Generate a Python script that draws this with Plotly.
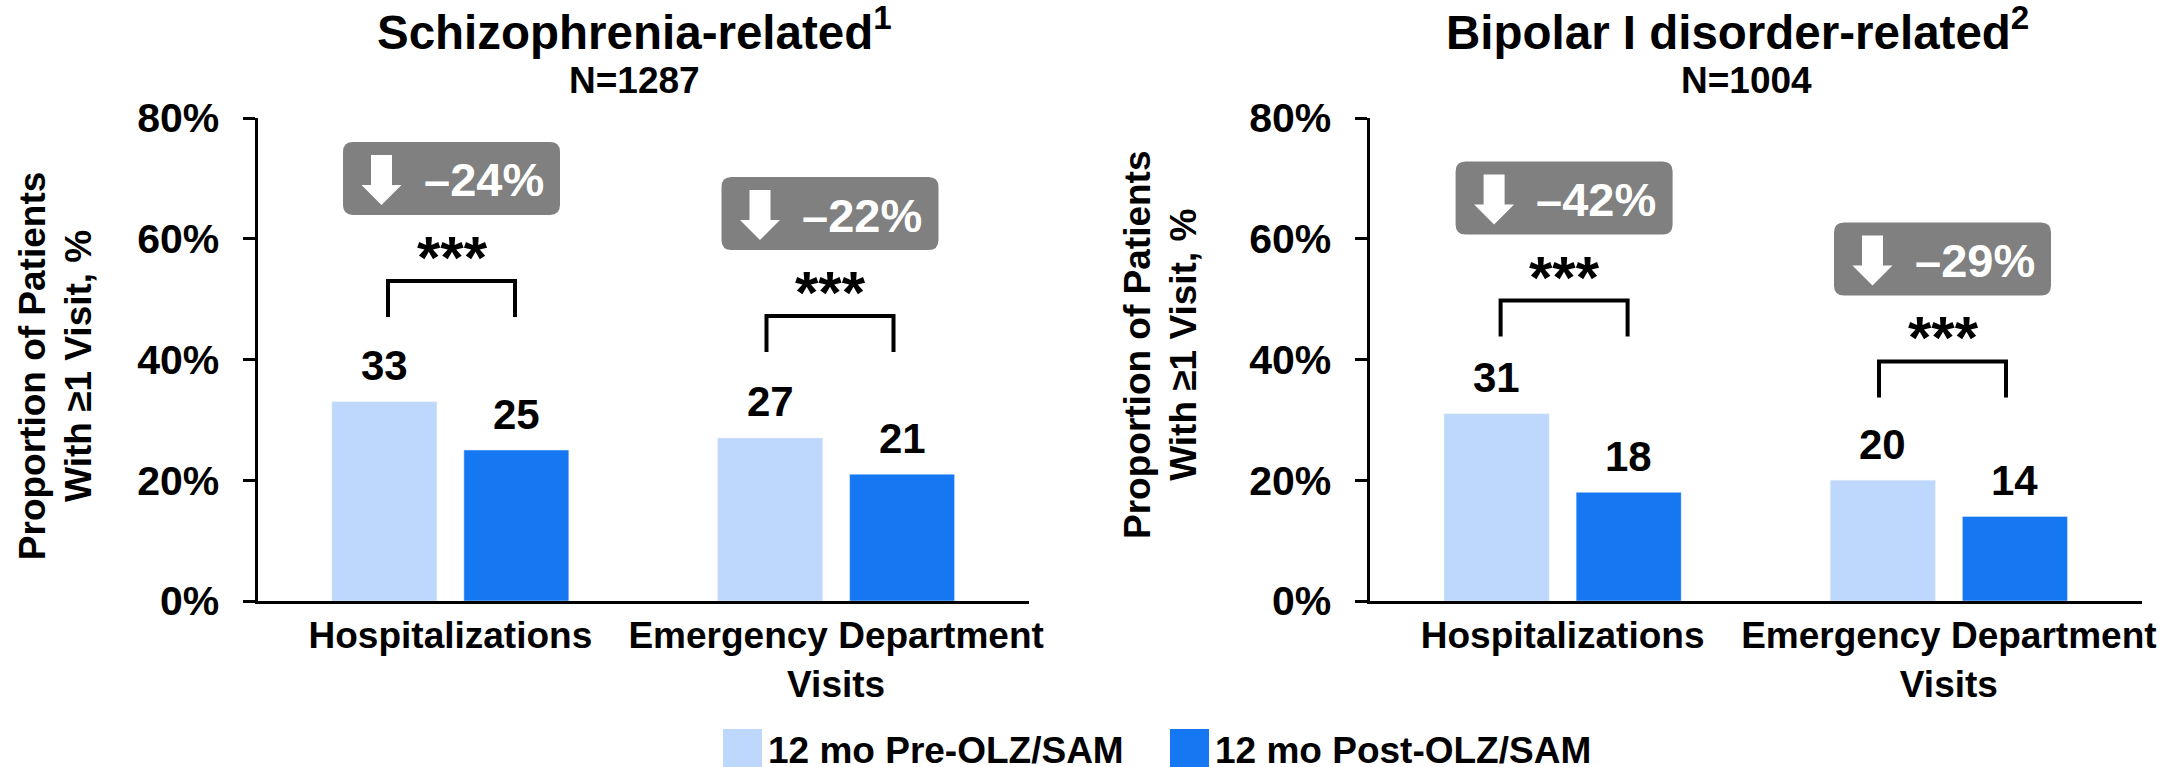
import plotly.graph_objects as go

W, H = 2182, 767
FONT = "Liberation Sans, Arial, sans-serif"

categories = ["Hospitalizations", "Emergency Department<br>Visits"]
series_names = ["12 mo Pre-OLZ/SAM", "12 mo Post-OLZ/SAM"]
schizo_pre = [33, 27]
schizo_post = [25, 21]
bipolar_pre = [31, 20]
bipolar_post = [18, 14]
titles = ["Schizophrenia-related<sup>1</sup>", "Bipolar I disorder-related<sup>2</sup>"]
subtitles = ["N=1287", "N=1004"]
reductions = ["\u201324%", "\u201322%", "\u201342%", "\u201329%"]
y_ticks = [0, 20, 40, 60, 80]
y_tick_labels = ["0%", "20%", "40%", "60%", "80%"]
y_title_lines = ["Proportion of Patients", "With \u22651 Visit, %"]
stars = "***"

LIGHT, DARK, GREY = "#BDD8FC", "#1577F2", "#808080"


def px(x):
    return x / W


def py(y):
    return 1 - y / H


fig = go.Figure()
panels = [("x", "y", schizo_pre, schizo_post), ("x2", "y2", bipolar_pre, bipolar_post)]
for xa, ya, pre, post in panels:
    fig.add_bar(x=[0, 1], y=pre, name=series_names[0], marker_color=LIGHT, xaxis=xa, yaxis=ya, showlegend=False)
    fig.add_bar(x=[0, 1], y=post, name=series_names[1], marker_color=DARK, xaxis=xa, yaxis=ya, showlegend=False)

ann = []
shapes = []


def text(x, y, t, size, color="black", **kw):
    ann.append(dict(x=x, y=y, text=t, showarrow=False, xanchor=kw.pop("xanchor", "center"), yanchor="middle",
                    font=dict(family=FONT, size=size, color=color, weight=700), **kw))


# value labels, anchored to the data
OFF = 0.171
for xa, ya, pre, post in panels:
    for i in range(2):
        for v, d in ((pre[i], -OFF), (post[i], OFF)):
            text(i + d, v, str(v), 42, xref=xa, yref=ya, yshift=36)

# panel titles and y titles
for cx, nx, t, s in zip((634, 1737), (634.5, 1747), titles, subtitles):
    text(px(cx), py(29), t, 47.5, xref="paper", yref="paper")
    text(px(nx), py(81), s, 37, xref="paper", yref="paper")
for c1, c2, cy in ((32.2, 77.9, 366), (1137, 1182.8, 345)):
    text(px(c1), py(cy), y_title_lines[0], 37, xref="paper", yref="paper", textangle=-90)
    text(px(c2), py(cy), y_title_lines[1], 37, xref="paper", yref="paper", textangle=-90)


def rounded(x0, y0, x1, y1, r):
    X = lambda v: f"{px(v):.5f}"
    Y = lambda v: f"{py(v):.5f}"
    return (f"M{X(x0+r)},{Y(y0)} L{X(x1-r)},{Y(y0)} Q{X(x1)},{Y(y0)} {X(x1)},{Y(y0+r)} "
            f"L{X(x1)},{Y(y1-r)} Q{X(x1)},{Y(y1)} {X(x1-r)},{Y(y1)} "
            f"L{X(x0+r)},{Y(y1)} Q{X(x0)},{Y(y1)} {X(x0)},{Y(y1-r)} "
            f"L{X(x0)},{Y(y0+r)} Q{X(x0)},{Y(y0)} {X(x0+r)},{Y(y0)} Z")


# callout + bracket groups: (dx, dy) from the first group
for (dx, dy), label in zip(((0, 0), (378.5, 35), (1112.6, 19.5), (1491, 80.5)), reductions):
    shapes.append(dict(type="path", xref="paper", yref="paper", fillcolor=GREY, line_width=0,
                       path=rounded(343 + dx, 142 + dy, 560 + dx, 215 + dy, 10)))
    ax = 381.5 + dx
    pts = [(ax - 10.5, 155), (ax + 10.5, 155), (ax + 10.5, 185), (ax + 20, 185), (ax, 205), (ax - 20, 185), (ax - 10.5, 185)]
    arrow = "M" + " L".join(f"{px(a):.5f},{py(b + dy):.5f}" for a, b in pts) + " Z"
    shapes.append(dict(type="path", xref="paper", yref="paper", fillcolor="white", line_width=0, path=arrow))
    text(px(483.5 + dx), py(180 + dy), label, 47, color="white", xref="paper", yref="paper")
    br = (f"M{px(388 + dx):.5f},{py(317 + dy):.5f} L{px(388 + dx):.5f},{py(281 + dy):.5f} "
          f"L{px(515 + dx):.5f},{py(281 + dy):.5f} L{px(515 + dx):.5f},{py(317 + dy):.5f}")
    shapes.append(dict(type="path", xref="paper", yref="paper", line=dict(color="black", width=4), path=br))
    text(px(452 + dx), py(257.5 + dy), stars, 60, xref="paper", yref="paper")

# legend
for x0, x1, c, name, tx in ((723, 762, LIGHT, series_names[0], 766), (1170, 1209, DARK, series_names[1], 1213)):
    shapes.append(dict(type="rect", xref="paper", yref="paper", x0=px(x0), x1=px(x1), y0=py(767), y1=py(729),
                       fillcolor=c, line_width=0))
    text(px(tx), py(750.5), name, 37, xref="paper", yref="paper", xanchor="left")

xcommon = dict(range=[-0.5, 1.5], tickmode="array", tickvals=[0, 1], ticktext=categories, ticks="", automargin=False,
               showline=True, linecolor="black", linewidth=3, showgrid=False, zeroline=False,
               ticklabelstandoff=0, tickfont=dict(family=FONT, size=37, color="black", weight=700))
ycommon = dict(range=[0, 80], tickmode="array", tickvals=y_ticks, ticktext=y_tick_labels, ticks="outside", automargin=False,
               ticklen=12, tickwidth=2.5, tickcolor="black", showline=True, linecolor="black", linewidth=3,
               showgrid=False, zeroline=False, ticklabelstandoff=15,
               tickfont=dict(family=FONT, size=41, color="black", weight=700))
ydom = [py(601), py(118)]

fig.update_layout(
    width=W, height=H, margin=dict(l=0, r=0, t=0, b=0), paper_bgcolor="white", plot_bgcolor="white",
    barmode="group", bargap=0.316, bargroupgap=0.2045, showlegend=False,
    xaxis=dict(domain=[px(257.5), px(1029)], **xcommon),
    yaxis=dict(domain=ydom, anchor="x", **ycommon),
    xaxis2=dict(domain=[px(1369.5), px(2142)], anchor="y2", **xcommon),
    yaxis2=dict(domain=ydom, anchor="x2", **ycommon),
    annotations=ann, shapes=shapes,
)

fig.write_html("out.html", post_script="document.body.style.margin='0';document.body.style.overflow='hidden';",
               config=dict(displayModeBar=False))
